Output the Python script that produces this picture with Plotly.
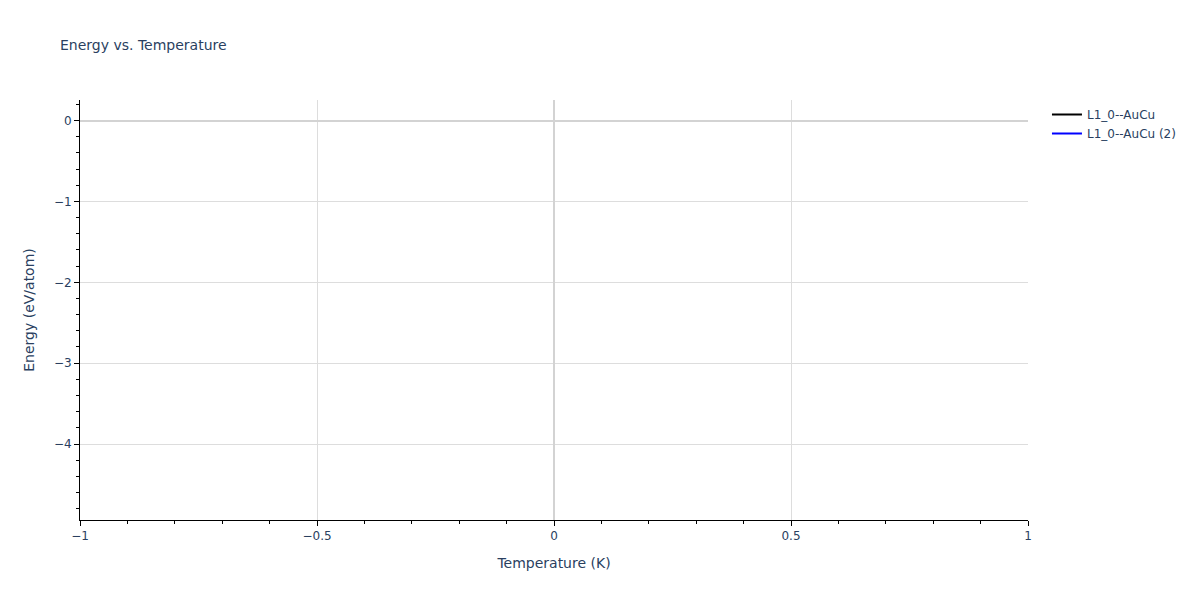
import plotly.graph_objects as go

# both curves came back with no usable values, so only the axes and legend show
temperature_1 = [None]
energy_1 = [None]
temperature_2 = [None]
energy_2 = [None]

names = ["L1_0--AuCu", "L1_0--AuCu (2)"]
colors = ["black", "blue"]

fig = go.Figure()
fig.add_trace(go.Scatter(x=temperature_1, y=energy_1, mode="lines", name=names[0],
                         line=dict(color=colors[0])))
fig.add_trace(go.Scatter(x=temperature_2, y=energy_2, mode="lines", name=names[1],
                         line=dict(color=colors[1])))

axis_style = dict(showline=True, linecolor="black", linewidth=1,
                  ticks="outside", tickcolor="black",
                  gridcolor="#dddddd", zerolinecolor="#d3d3d3", zerolinewidth=2,
                  minor=dict(ticks="outside", tickcolor="black", showgrid=False))

fig.update_layout(
    template="plotly_white",
    width=1200, height=600,
    margin=dict(l=80, r=172, t=100, b=80),
    showlegend=True,
    font=dict(family="Verdana, DejaVu Sans, sans-serif"),
    title=dict(text="Energy vs. Temperature", font=dict(size=14)),
    xaxis=dict(title="Temperature (K)", range=[-1, 1], dtick=0.5, **axis_style),
    yaxis=dict(title="Energy (eV/atom)", range=[-4.94, 0.255], dtick=1, **axis_style),
)

fig.write_html("out.html", config={"displayModeBar": False},
               post_script="document.body.style.margin = '0';")
